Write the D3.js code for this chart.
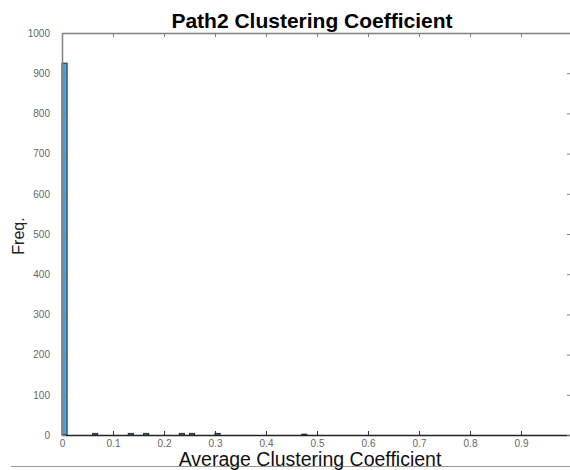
<!DOCTYPE html>
<html>
<head>
<meta charset="utf-8">
<script src="https://cdn.jsdelivr.net/npm/d3@7"></script>
<style>
  body { margin: 0; background: #fff; }
  svg { display: block; font-family: "Liberation Sans", Arial, sans-serif; }
</style>
</head>
<body>
<svg id="chart" width="570" height="470"></svg>
<script>
// histogram of average clustering coefficient, 100 bins on [0,1]
const binWidth = 0.01;
const binStarts = d3.range(0, 100).map(i => +(i * binWidth).toFixed(2));
const counts = binStarts.map(() => 0);
// non-empty bins: [bin index, count]
const nonEmpty = [[0, 925], [6, 4], [13, 4], [16, 4], [23, 4], [25, 4], [30, 4], [47, 2]];
nonEmpty.forEach(([i, c]) => counts[i] = c);

const xTicks = [0, 0.1, 0.2, 0.3, 0.4, 0.5, 0.6, 0.7, 0.8, 0.9, 1];
const xLabelled = [0, 0.1, 0.2, 0.3, 0.4, 0.5, 0.6, 0.7, 0.8, 0.9];
const yTicks = [0, 100, 200, 300, 400, 500, 600, 700, 800, 900, 1000];

const svg = d3.select('#chart');
const mLeft = 62, mRight = 572, mTop = 33, mBottom = 435;

const x = d3.scaleLinear().domain([0, 1]).range([mLeft, mRight]);
const y = d3.scaleLinear().domain([0, 1000]).range([mBottom, mTop]);

// bars
svg.append('g').selectAll('rect')
    .data(binStarts)
    .join('rect')
    .attr('x', d => x(d))
    .attr('y', (d, i) => y(counts[i]))
    .attr('width', x(binWidth) - x(0))
    .attr('height', (d, i) => y(0) - y(counts[i]))
    .attr('fill', '#4f9fd6')
    .attr('stroke', '#1c2d3c')
    .attr('stroke-width', 1);

// axes: ticks pointing inwards like matlab
const tickCol = '#808080', labelCol = '#666';

const xb = svg.append('g').attr('transform', `translate(0,${mBottom})`)
    .call(d3.axisBottom(x).tickValues(xTicks).tickSizeInner(-4).tickSizeOuter(0)
        .tickPadding(5)
        .tickFormat(d => xLabelled.includes(d) ? (d === 0 ? '0' : d3.format('.1f')(d)) : ''));
const xt = svg.append('g').attr('transform', `translate(0,${mTop})`)
    .call(d3.axisTop(x).tickValues(xTicks).tickSizeInner(-4).tickSizeOuter(0).tickFormat(''));
const yl = svg.append('g').attr('transform', `translate(${mLeft},0)`)
    .call(d3.axisLeft(y).tickValues(yTicks).tickSizeInner(-4).tickSizeOuter(0)
        .tickPadding(12).tickFormat(d3.format('d')));
const yr = svg.append('g').attr('transform', `translate(${mRight},0)`)
    .call(d3.axisRight(y).tickValues(yTicks).tickSizeInner(-5).tickSizeOuter(0).tickFormat(''));

[xt, yl, yr].forEach(g => {
    g.select('.domain').attr('stroke', tickCol).attr('stroke-width', 1.5);
    g.selectAll('.tick line').attr('stroke', tickCol);
});
xb.select('.domain').attr('stroke', '#222').attr('stroke-width', 1.5);
xb.selectAll('.tick line').attr('stroke', '#333');
[xb, yl].forEach(g => g.selectAll('.tick text')
    .attr('fill', labelCol).style('font-size', '10px').style('font-family', '"Liberation Sans", Arial, sans-serif'));

// title and labels
svg.append('text')
    .attr('x', 312).attr('y', 28)
    .attr('text-anchor', 'middle')
    .style('font-size', '21px').style('font-weight', 'bold')
    .text('Path2 Clustering Coefficient');

svg.append('text')
    .attr('transform', 'translate(24,236) rotate(-90)')
    .attr('text-anchor', 'middle')
    .style('font-size', '16px')
    .attr('fill', '#222')
    .text('Freq.');

svg.append('line')
    .attr('x1', 11).attr('x2', 570).attr('y1', 466.5).attr('y2', 466.5)
    .attr('stroke', '#999').attr('stroke-width', 1);

svg.append('text')
    .attr('x', 310).attr('y', 466)
    .attr('text-anchor', 'middle')
    .style('font-size', '19.5px')
    .attr('fill', '#111')
    .text('Average Clustering Coefficient');
</script>
</body>
</html>
